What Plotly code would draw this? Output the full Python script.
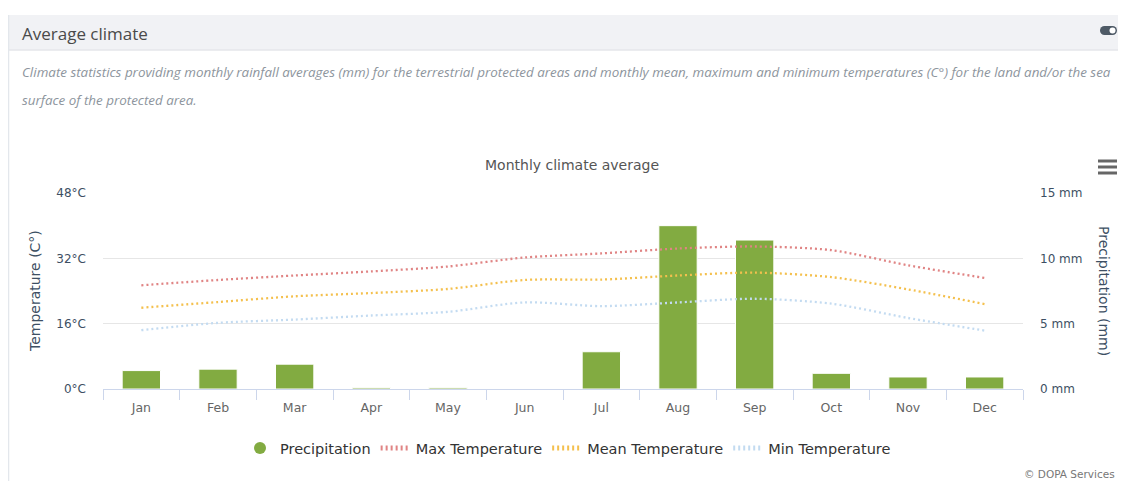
import plotly.graph_objects as go

months = ["Jan", "Feb", "Mar", "Apr", "May", "Jun", "Jul", "Aug", "Sep", "Oct", "Nov", "Dec"]
precipitation = [1.41, 1.52, 1.9, 0.1, 0.1, 0.0, 2.85, 12.5, 11.4, 1.2, 0.92, 0.92]
max_temp = [25.4, 26.7, 27.8, 28.8, 30.0, 32.2, 33.2, 34.4, 34.9, 34.0, 30.3, 27.2]
mean_temp = [19.9, 21.3, 22.7, 23.5, 24.5, 26.7, 26.8, 27.8, 28.5, 27.4, 24.4, 20.8]
min_temp = [14.4, 16.2, 17.0, 18.0, 18.9, 21.2, 20.3, 21.2, 22.1, 20.9, 17.4, 14.3]
temp_ticks = [0, 16, 32, 48]
temp_tick_labels = ["0°C", "16°C", "32°C", "48°C"]
precip_ticks = [0, 5, 10, 15]
precip_tick_labels = ["0 mm", "5 mm", "10 mm", "15 mm"]

# the page body has an 8px margin: the figure sits at (8, 8) in the window
OFF = 8
WIN_W, WIN_H = 1126, 481
W, H = WIN_W - OFF, WIN_H - OFF
# plot area in window pixels
L, R, T, B = 103, 1023, 193, 389


def px_x(px):
    return (px - L) / (R - L)


def px_y(py):
    return (B - py) / (B - T)


GREEN = "#82ab41"
RED = "#e08484"
ORANGE = "#f4c04e"
BLUE = "#c3dbf1"
AXIS_TXT = "#3d4f63"
CHART_FONT = "DejaVu Sans"

fig = go.Figure()

fig.add_trace(go.Bar(
    x=months, y=precipitation, yaxis="y", name="Precipitation",
    marker=dict(color=GREEN, line=dict(color="#ffffff", width=1)),
    showlegend=False, hoverinfo="x+y"))

fig.add_trace(go.Scatter(
    x=[None], y=[None], yaxis="y", mode="markers", name="Precipitation",
    marker=dict(symbol="circle", size=15, color=GREEN)))

for name, vals, col in [("Max Temperature", max_temp, RED),
                        ("Mean Temperature", mean_temp, ORANGE),
                        ("Min Temperature", min_temp, BLUE)]:
    fig.add_trace(go.Scatter(
        x=months, y=vals, yaxis="y2", mode="lines", name=name,
        line=dict(color=col, width=2.3, dash="2px,3px", shape="spline", smoothing=0.8)))

shapes = []
# card header band
shapes.append(dict(type="rect", xref="paper", yref="paper",
                   x0=px_x(7), x1=px_x(1140), y0=px_y(50), y1=px_y(15),
                   fillcolor="#f1f2f5", line=dict(width=0), layer="below"))
shapes.append(dict(type="line", xref="paper", yref="paper",
                   x0=px_x(7), x1=px_x(1140), y0=px_y(50), y1=px_y(50),
                   line=dict(color="#e4e6ea", width=1.5), layer="below"))
# card left border
shapes.append(dict(type="line", xref="paper", yref="paper",
                   x0=px_x(8.5), x1=px_x(8.5), y0=px_y(490), y1=px_y(15),
                   line=dict(color="#e3e7ec", width=1.5), layer="below"))
# toggle icon (pill with white knob)
TOG = "#4e5a66"
TX = 1100
shapes.append(dict(type="circle", xref="paper", yref="paper",
                   x0=px_x(TX), x1=px_x(TX + 9), y0=px_y(35), y1=px_y(26),
                   fillcolor=TOG, line=dict(width=0)))
shapes.append(dict(type="rect", xref="paper", yref="paper",
                   x0=px_x(TX + 4.5), x1=px_x(TX + 12.5), y0=px_y(35), y1=px_y(26),
                   fillcolor=TOG, line=dict(width=0)))
shapes.append(dict(type="circle", xref="paper", yref="paper",
                   x0=px_x(TX + 8), x1=px_x(TX + 17), y0=px_y(35), y1=px_y(26),
                   fillcolor=TOG, line=dict(width=0)))
shapes.append(dict(type="circle", xref="paper", yref="paper",
                   x0=px_x(TX + 9.5), x1=px_x(TX + 15.5), y0=px_y(33.5), y1=px_y(27.5),
                   fillcolor="#ffffff", line=dict(width=0)))
# hamburger icon
for yy in [161, 167, 173]:
    shapes.append(dict(type="line", xref="paper", yref="paper",
                       x0=px_x(1098), x1=px_x(1117), y0=px_y(yy), y1=px_y(yy),
                       line=dict(color="#666666", width=3)))

annotations = [
    dict(text="Average climate", x=px_x(20), y=px_y(33), xanchor="left", yanchor="middle",
         font=dict(family="Open Sans", size=17, color="#4a4a4a")),
    dict(text="<i>Climate statistics providing monthly rainfall averages (mm) for the terrestrial protected areas and monthly mean, maximum and minimum temperatures (C°) for the land and/or the sea</i>",
         x=px_x(20), y=px_y(72), xanchor="left", yanchor="middle",
         font=dict(family="Open Sans", size=13.4, color="#8d959d")),
    dict(text="<i>surface of the protected area.</i>",
         x=px_x(20), y=px_y(100), xanchor="left", yanchor="middle",
         font=dict(family="Open Sans", size=13.4, color="#8d959d")),
    dict(text="Monthly climate average", x=px_x(572), y=px_y(165), xanchor="center", yanchor="middle",
         font=dict(family=CHART_FONT, size=14, color="#555555")),
    dict(text="Temperature (C°)", x=px_x(35), y=px_y(291), xanchor="center", yanchor="middle",
         textangle=-90, font=dict(family=CHART_FONT, size=14, color=AXIS_TXT)),
    dict(text="Precipitation (mm)", x=px_x(1104), y=px_y(291), xanchor="center", yanchor="middle",
         textangle=90, font=dict(family=CHART_FONT, size=14, color=AXIS_TXT)),
    dict(text="© DOPA Services", x=px_x(1117), y=px_y(474), xanchor="right", yanchor="middle",
         font=dict(family=CHART_FONT, size=10.5, color="#777777")),
]
for a in annotations:
    a.update(xref="paper", yref="paper", showarrow=False)

fig.update_layout(
    width=W, height=H,
    margin=dict(l=L - OFF, r=WIN_W - R, t=T - OFF, b=WIN_H - B, pad=0),
    paper_bgcolor="#ffffff", plot_bgcolor="#ffffff",
    bargap=0.5,
    showlegend=True,
    legend=dict(orientation="h", x=px_x(568), xanchor="center", y=px_y(448), yanchor="middle",
                font=dict(family=CHART_FONT, size=14.5, color="#333333"),
                itemsizing="constant", bgcolor="rgba(0,0,0,0)"),
    xaxis=dict(type="category", categoryorder="array", categoryarray=months,
               range=[-0.5, 11.5], showgrid=False, showline=True, linecolor="#ccd6eb",
               linewidth=1, ticks="outside", tickson="boundaries", ticklen=10,
               tickcolor="#ccd6eb", tickwidth=1, ticklabelstandoff=7,
               tickfont=dict(family=CHART_FONT, size=12.5, color="#666666"), zeroline=False),
    yaxis=dict(side="right", range=[0, 15], tickvals=precip_ticks, ticktext=precip_tick_labels,
               showgrid=True, gridcolor="#e6e6e6", gridwidth=1, zeroline=False,
               ticks="", ticklabelstandoff=16,
               tickfont=dict(family=CHART_FONT, size=12, color=AXIS_TXT)),
    yaxis2=dict(side="left", overlaying="y", range=[0, 48], tickvals=temp_ticks,
                ticktext=temp_tick_labels, showgrid=False, zeroline=False,
                ticks="", ticklabelstandoff=16,
                tickfont=dict(family=CHART_FONT, size=12, color=AXIS_TXT)),
    shapes=shapes,
    annotations=annotations,
)

fig.write_html("out.html", config={"displayModeBar": False})
